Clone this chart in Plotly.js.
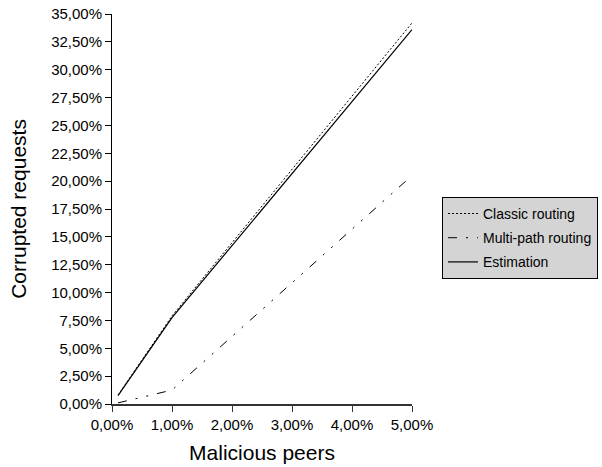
<!DOCTYPE html>
<html>
<head>
<meta charset="utf-8">
<script src="https://cdn.plot.ly/plotly-3.0.1.min.js"></script>
<style>html,body{margin:0;padding:0;background:#fff;}#chart{width:602px;height:467px;}</style>
</head>
<body>
<div id="chart"></div>
<script>
var maliciousPeers = [0.1, 1, 5];
var classicRouting = [0.8, 7.9, 34.2];
var multiPathRouting = [0.1, 1.25, 20.5];
var estimation = [0.75, 7.75, 33.6];
var seriesNames = ["Classic routing", "Multi-path routing", "Estimation"];

var traces = [
  {x: maliciousPeers, y: classicRouting, name: seriesNames[0], mode: "lines", legendgroup: "a",
   line: {color: "#000", width: 1, dash: "2px,2px"}},
  {x: maliciousPeers, y: multiPathRouting, name: seriesNames[1], mode: "lines", legendgroup: "b",
   line: {color: "#000", width: 1, dash: "9px,9px,2px,9px,2px,9px"}},
  {x: maliciousPeers, y: estimation, name: seriesNames[2], mode: "lines", legendgroup: "c",
   line: {color: "#000", width: 1.2}}
];

var font = "Arial, 'Liberation Sans', sans-serif";
var layout = {
  width: 602, height: 467,
  margin: {l: 112, r: 190, t: 14, b: 63, autoexpand: false},
  paper_bgcolor: "#fff", plot_bgcolor: "#fff",
  separators: ",.",
  font: {family: font, color: "#000", size: 15},
  showlegend: true,
  legend: {
    x: 1.1, y: 0.531, xanchor: "left", yanchor: "top",
    bgcolor: "#d4d4d4", bordercolor: "#000", borderwidth: 1,
    font: {family: font, size: 14, color: "#000"},
    traceorder: "grouped", tracegroupgap: 3
  },
  xaxis: {
    range: [0, 5], tick0: 0, dtick: 1, tickformat: ".2f", ticksuffix: "%",
    showgrid: false, zeroline: false, showline: true, linecolor: "#333", linewidth: 1.5,
    ticks: "outside", ticklen: 6, tickcolor: "#333", tickwidth: 1,
    tickfont: {family: font, size: 15},
    title: {text: "Malicious peers", font: {family: font, size: 21}, standoff: 14}
  },
  yaxis: {
    range: [0, 35], tick0: 0, dtick: 2.5, tickformat: ".2f", ticksuffix: "%",
    showgrid: false, zeroline: false, showline: true, linecolor: "#000", linewidth: 1,
    ticks: "outside", ticklen: 6, tickcolor: "#000", tickwidth: 1,
    tickfont: {family: font, size: 15},
    title: {text: "Corrupted requests", font: {family: font, size: 21}, standoff: 18}
  }
};

Plotly.newPlot("chart", traces, layout, {displayModeBar: false, staticPlot: true});
</script>
</body>
</html>
